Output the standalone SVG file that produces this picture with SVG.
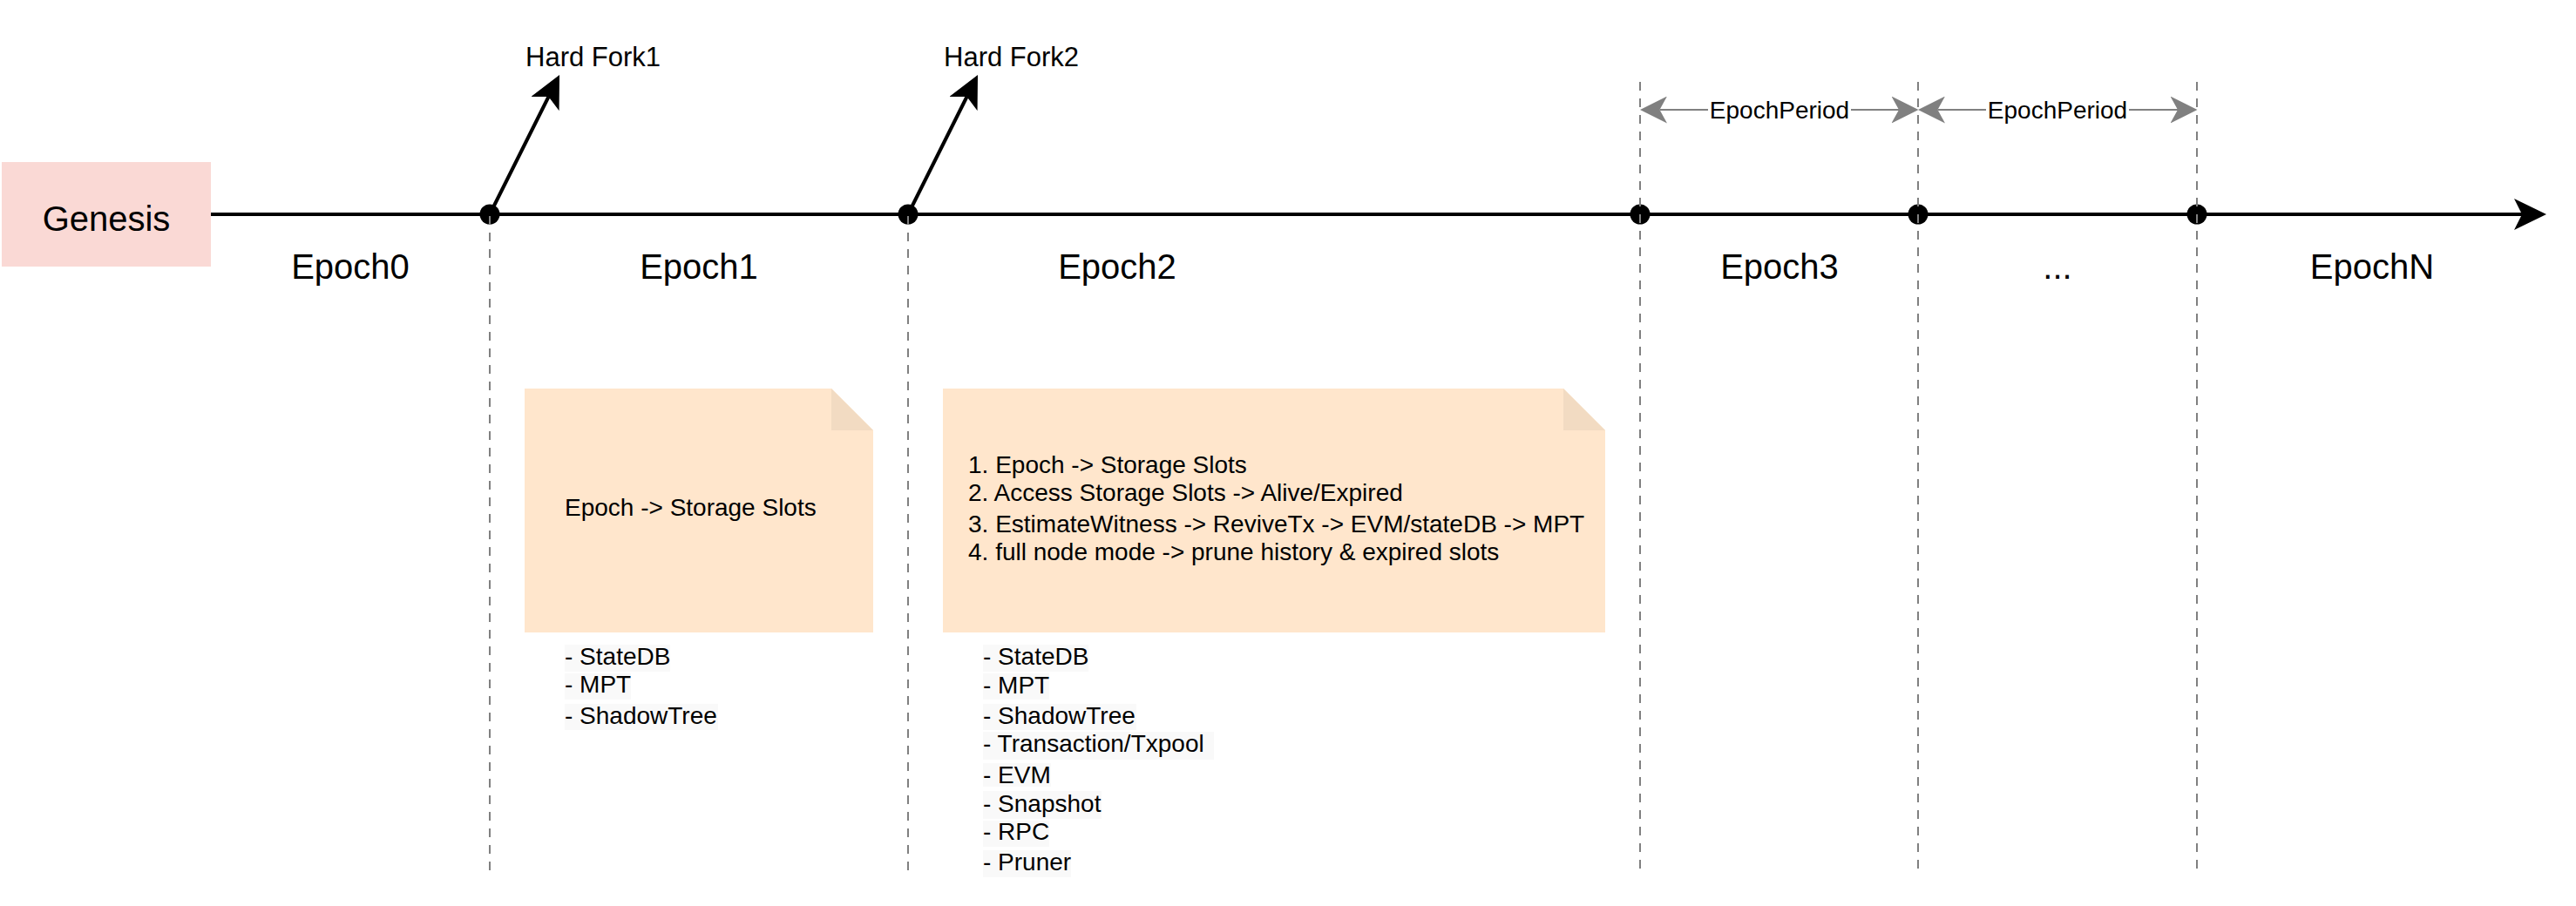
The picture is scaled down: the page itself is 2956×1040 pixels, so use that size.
<svg xmlns="http://www.w3.org/2000/svg" width="2956" height="1040" viewBox="0 0 2956 1040">
<style>
text{font-family:"Liberation Sans",Arial,Helvetica,sans-serif;fill:#000}
.big{font-size:40px;text-anchor:middle}
.fork{font-size:31px}
.t28{font-size:28px}
.mid{text-anchor:middle}
.dash{stroke:#808080;stroke-width:2;stroke-dasharray:10 9;fill:none}
.blk{stroke:#000;stroke-width:4;fill:none}
.gry{stroke:#808080;stroke-width:2;fill:none}
.note{fill:#ffe6cc}
.fold{fill:#f2dbc2}
.lbg{fill:#f9f9f9}
</style>
<defs>
<marker id="arrBlack" markerUnits="userSpaceOnUse" markerWidth="37" markerHeight="36" viewBox="0 0 37 36" refX="9" refY="18" orient="auto">
<path d="M0,0 L37,18 L0,36 L9,18 Z" fill="#000"/>
</marker>
<marker id="arrGray" markerUnits="userSpaceOnUse" markerWidth="31" markerHeight="31" viewBox="0 0 31 31" refX="8.5" refY="15.5" orient="auto-start-reverse">
<path d="M0,0 L31,15.5 L0,31 L8.5,15.5 Z" fill="#808080"/>
</marker>
</defs>
<rect width="2956" height="1040" fill="#fff"/>

<g id="genesis">
<rect x="2" y="186" width="240" height="120" fill="#fad9d5"/>
<text class="big" x="122" y="265">Genesis</text>
</g>

<g id="connectors">
<path class="blk" d="M242,246 H2894" marker-end="url(#arrBlack)"/>
<path class="blk" d="M562,246 L629.5,111" marker-end="url(#arrBlack)"/>
<path class="blk" d="M1042,246 L1109.5,111" marker-end="url(#arrBlack)"/>
<g id="points">
<circle cx="562" cy="246" r="11.5"/>
<circle cx="1042" cy="246" r="11.5"/>
<circle cx="1882" cy="246" r="11.5"/>
<circle cx="2201" cy="246" r="11.5"/>
<circle cx="2521" cy="246" r="11.5"/>
</g>
<path class="dash" d="M562,248 V1006"/>
<path class="dash" d="M1042,248 V1006"/>
<path class="dash" d="M1882,94 V1006"/>
<path class="dash" d="M2201,94 V1006"/>
<path class="dash" d="M2521,94 V1006"/>
<path class="gry" d="M1904.5,126 H2179" marker-start="url(#arrGray)" marker-end="url(#arrGray)"/>
<path class="gry" d="M2223.5,126 H2499" marker-start="url(#arrGray)" marker-end="url(#arrGray)"/>
</g>

<g id="epoch-period-1">
<rect x="1960" y="110" width="164" height="32" fill="#fff"/>
<text class="t28 mid" x="2042" y="136">EpochPeriod</text>
</g>
<g id="epoch-period-2">
<rect x="2279" y="110" width="164" height="32" fill="#fff"/>
<text class="t28 mid" x="2361" y="136">EpochPeriod</text>
</g>

<g id="hard-fork-1"><text class="fork" x="603" y="76">Hard Fork1</text></g>
<g id="hard-fork-2"><text class="fork" x="1083" y="76">Hard Fork2</text></g>

<g id="epoch0"><text class="big" x="402" y="320">Epoch0</text></g>
<g id="epoch1"><text class="big" x="802" y="320">Epoch1</text></g>
<g id="epoch2"><text class="big" x="1282" y="320">Epoch2</text></g>
<g id="epoch3"><text class="big" x="2042" y="320">Epoch3</text></g>
<g id="epoch-dots"><text class="big" x="2361" y="320">...</text></g>
<g id="epochN"><text class="big" x="2722" y="320">EpochN</text></g>

<g id="note1">
<path class="note" d="M602,446 H954 L1002,494 V726 H602 Z"/>
<path class="fold" d="M954,446 V494 H1002 Z"/>
<text class="t28" x="648" y="592">Epoch -&gt; Storage Slots</text>
</g>

<g id="note2">
<path class="note" d="M1082,446 H1794 L1842,494 V726 H1082 Z"/>
<path class="fold" d="M1794,446 V494 H1842 Z"/>
<text class="t28" x="1111" y="543">1. Epoch -&gt; Storage Slots</text>
<text class="t28" x="1111" y="575">2. Access Storage Slots -&gt; Alive/Expired</text>
<text class="t28" x="1111" y="611">3. EstimateWitness -&gt; ReviveTx -&gt; EVM/stateDB -&gt; MPT</text>
<text class="t28" x="1111" y="643">4. full node mode -&gt; prune history &amp; expired slots</text>
</g>

<g id="list1">
<rect class="lbg" x="648" y="740" width="121" height="31"/>
<rect class="lbg" x="648" y="773" width="76" height="30"/>
<rect class="lbg" x="648" y="808" width="176" height="30"/>
<text class="t28" x="648" y="763">- StateDB</text>
<text class="t28" x="648" y="795">- MPT</text>
<text class="t28" x="648" y="831">- ShadowTree</text>
</g>

<g id="list2">
<rect class="lbg" x="1128" y="740" width="121" height="31"/>
<rect class="lbg" x="1128" y="773" width="76" height="30"/>
<rect class="lbg" x="1128" y="808" width="176" height="30"/>
<rect class="lbg" x="1128" y="840" width="265" height="32"/>
<rect class="lbg" x="1128" y="876" width="78" height="27"/>
<rect class="lbg" x="1128" y="908" width="136" height="32"/>
<rect class="lbg" x="1128" y="942" width="76" height="30"/>
<rect class="lbg" x="1128" y="976" width="101" height="31"/>
<text class="t28" x="1128" y="763">- StateDB</text>
<text class="t28" x="1128" y="796">- MPT</text>
<text class="t28" x="1128" y="831">- ShadowTree</text>
<text class="t28" x="1128" y="863">- Transaction/Txpool</text>
<text class="t28" x="1128" y="899">- EVM</text>
<text class="t28" x="1128" y="932">- Snapshot</text>
<text class="t28" x="1128" y="964">- RPC</text>
<text class="t28" x="1128" y="999">- Pruner</text>
</g>
</svg>
